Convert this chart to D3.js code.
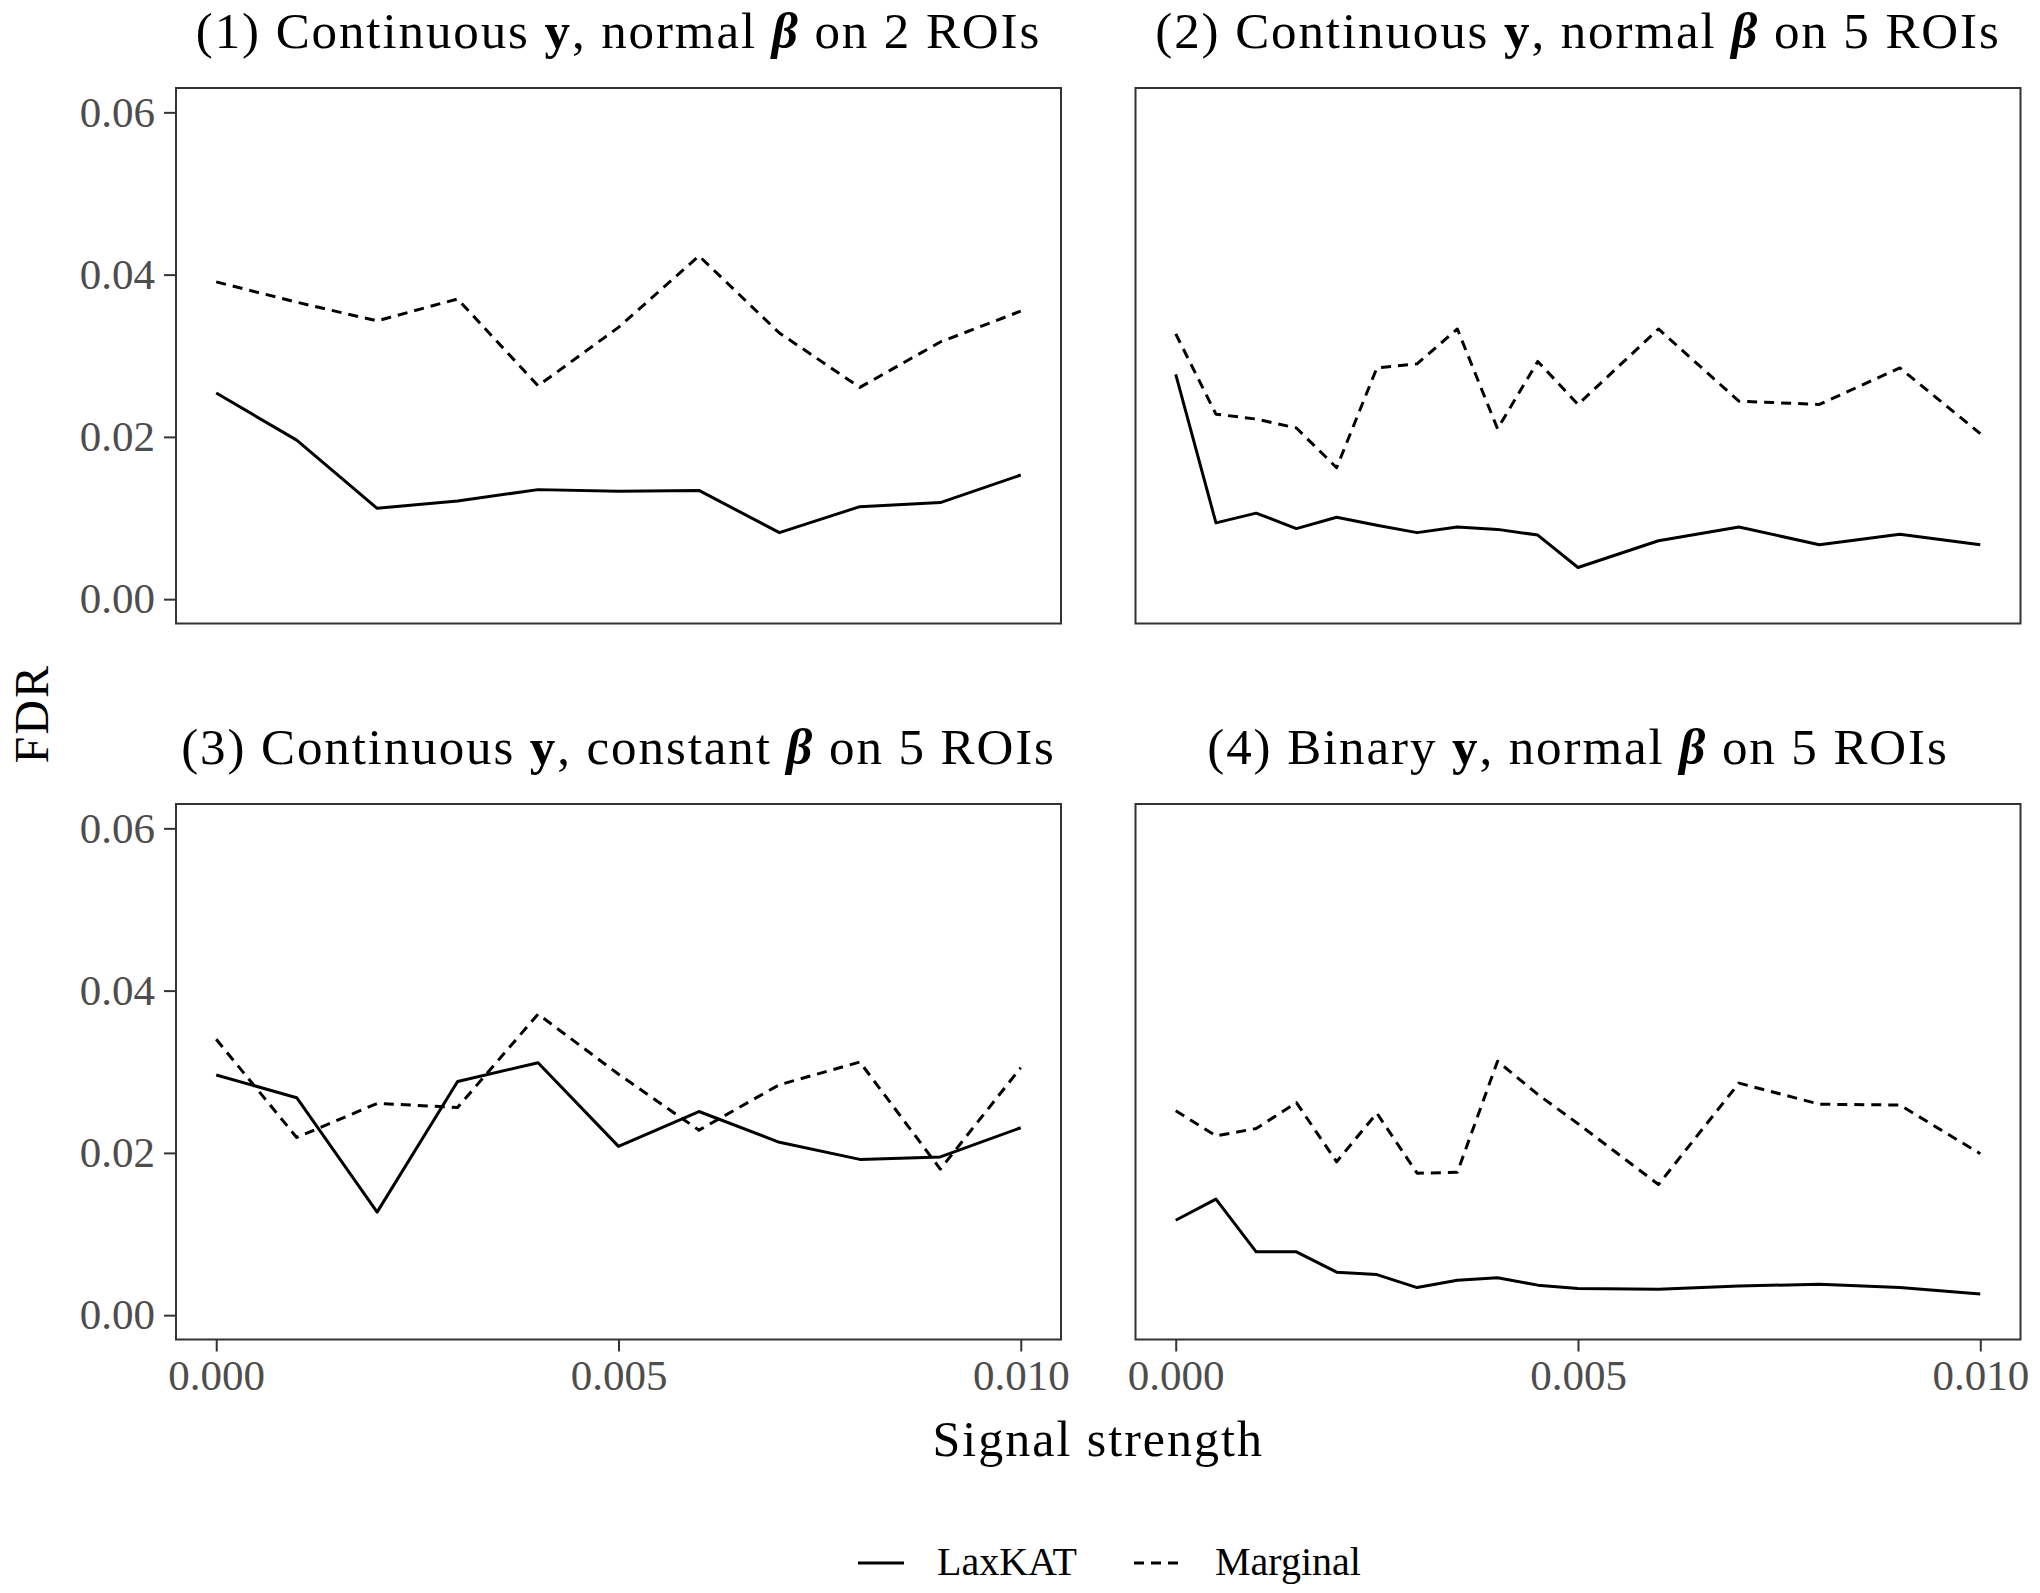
<!DOCTYPE html>
<html>
<head>
<meta charset="utf-8">
<script src="https://cdn.jsdelivr.net/npm/d3@7"></script>
<style>
	html, body { margin: 0; padding: 0; background: #ffffff; }
	svg { display: block; font-family: "Liberation Serif", "Times New Roman", serif; }
	.tick-label { fill: #4d4d4d; font-size: 43px; font-family: "Liberation Serif", "Times New Roman", serif; }
	.panel-title { fill: #000000; font-size: 51px; letter-spacing: 1.9px; }
	.axis-title { fill: #000000; font-size: 50px; letter-spacing: 2px; }
	.legend-text { fill: #000000; font-size: 40px; }
</style>
</head>
<body>
<svg id="chart"></svg>
<script>
const width = 2040;
const height = 1593;

// x values: coarse grid (panels 1, 3) and fine grid (panels 2, 4)
const xCoarse = [0, 0.001, 0.002, 0.003, 0.004, 0.005, 0.006, 0.007, 0.008, 0.009, 0.010];
const xFine = [0, 0.0005, 0.001, 0.0015, 0.002, 0.0025, 0.003, 0.0035, 0.004, 0.0045, 0.005,
	0.006, 0.007, 0.008, 0.009, 0.010];

// FDR
const laxkat1 = [0.0254, 0.0196, 0.0112, 0.0121, 0.0135, 0.0133, 0.0134, 0.0082, 0.0114, 0.0119, 0.0153];
const marginal1 = [0.0391, 0.0366, 0.0343, 0.0370, 0.0263, 0.0335, 0.0423, 0.0328, 0.0261, 0.0317, 0.0355];

const laxkat2 = [0.0277, 0.0094, 0.0106, 0.0087, 0.0101, 0.0091, 0.0082, 0.0089, 0.0086, 0.0079, 0.0039,
	0.0072, 0.0089, 0.0067, 0.0080, 0.0067];
const marginal2 = [0.0327, 0.0228, 0.0222, 0.0211, 0.0162, 0.0285, 0.0290, 0.0333, 0.0210, 0.0293, 0.0240,
	0.0333, 0.0244, 0.0240, 0.0285, 0.0204];

const laxkat3 = [0.0296, 0.0268, 0.0127, 0.0288, 0.0311, 0.0208, 0.0251, 0.0213, 0.0192, 0.0195, 0.0231];
const marginal3 = [0.0340, 0.0219, 0.0261, 0.0256, 0.0371, 0.0297, 0.0228, 0.0284, 0.0312, 0.0180, 0.0305];

const laxkat4 = [0.0117, 0.0143, 0.0078, 0.0078, 0.0053, 0.0050, 0.0034, 0.0043, 0.0046, 0.0037, 0.0033,
	0.0032, 0.0036, 0.0038, 0.0034, 0.0026];
const marginal4 = [0.0252, 0.0221, 0.0230, 0.0262, 0.0189, 0.0249, 0.0175, 0.0176, 0.0313, 0.0272, 0.0236,
	0.0161, 0.0286, 0.0260, 0.0259, 0.0199];

// title pieces: [plain, bold y, plain, bold-italic beta, plain]
const panelTitles = [
	["(1) Continuous ", "y", ", normal ", "β", " on 2 ROIs"],
	["(2) Continuous ", "y", ", normal ", "β", " on 5 ROIs"],
	["(3) Continuous ", "y", ", constant ", "β", " on 5 ROIs"],
	["(4) Binary ", "y", ", normal ", "β", " on 5 ROIs"]
];

const yTicks = [0, 0.02, 0.04, 0.06];
const yTickLabels = ["0.00", "0.02", "0.04", "0.06"];
const xTicks = [0, 0.005, 0.010];
const xTickLabels = ["0.000", "0.005", "0.010"];

const seriesNames = ["LaxKAT", "Marginal"];
const dashPattern = "10 7";

const panels = [
	{ x: xCoarse, lax: laxkat1, mar: marginal1, col: 0, row: 0 },
	{ x: xFine, lax: laxkat2, mar: marginal2, col: 1, row: 0 },
	{ x: xCoarse, lax: laxkat3, mar: marginal3, col: 0, row: 1 },
	{ x: xFine, lax: laxkat4, mar: marginal4, col: 1, row: 1 }
];

const colLeft = [176, 1135.5];
const panelWidth = 885;
const rowTop = [88, 804];
const panelHeight = 535.5;

// ggplot style 5% expansion
const expand = (lo, hi) => [lo - (hi - lo) * 0.05, hi + (hi - lo) * 0.05];

const svg = d3.select("#chart")
	.attr("width", width)
	.attr("height", height)
	.attr("viewBox", `0 0 ${width} ${height}`);

svg.append("rect")
	.attr("width", width)
	.attr("height", height)
	.attr("fill", "#ffffff");

function styleAxis(sel) {
	sel.attr("font-family", null).attr("font-size", null);
	sel.select(".domain").remove();
	sel.selectAll(".tick line").attr("stroke", "#333333").attr("stroke-width", 2);
	sel.selectAll(".tick text").attr("class", "tick-label").attr("fill", null);
}

panels.forEach((p, i) => {
	const left = colLeft[p.col];
	const top = rowTop[p.row];

	const xScale = d3.scaleLinear()
		.domain(expand(0, 0.010))
		.range([left, left + panelWidth]);
	const yScale = d3.scaleLinear()
		.domain(expand(0, 0.06))
		.range([top + panelHeight, top]);

	const g = svg.append("g").attr("class", "panel");

	const line = d3.line()
		.x((d) => xScale(d[0]))
		.y((d) => yScale(d[1]));

	g.append("path")
		.datum(p.x.map((x, j) => [x, p.mar[j]]))
		.attr("d", line)
		.attr("fill", "none")
		.attr("stroke", "#000000")
		.attr("stroke-width", 3)
		.attr("stroke-dasharray", dashPattern)
		.attr("stroke-linejoin", "round");

	g.append("path")
		.datum(p.x.map((x, j) => [x, p.lax[j]]))
		.attr("d", line)
		.attr("fill", "none")
		.attr("stroke", "#000000")
		.attr("stroke-width", 3)
		.attr("stroke-linejoin", "round");

	// panel border
	g.append("rect")
		.attr("x", left)
		.attr("y", top)
		.attr("width", panelWidth)
		.attr("height", panelHeight)
		.attr("fill", "none")
		.attr("stroke", "#333333")
		.attr("stroke-width", 2);

	// y axis only on left column
	if (p.col === 0) {
		const yAxis = d3.axisLeft(yScale)
			.tickValues(yTicks)
			.tickFormat((d, k) => yTickLabels[k])
			.tickSize(12)
			.tickPadding(9);
		g.append("g")
			.attr("transform", `translate(${left}, 0)`)
			.call(yAxis)
			.call(styleAxis);
	}

	// x axis only on bottom row
	if (p.row === 1) {
		const xAxis = d3.axisBottom(xScale)
			.tickValues(xTicks)
			.tickFormat((d, k) => xTickLabels[k])
			.tickSize(12)
			.tickPadding(8);
		g.append("g")
			.attr("transform", `translate(0, ${top + panelHeight})`)
			.call(xAxis)
			.call(styleAxis);
	}

	// title
	const title = svg.append("text")
		.attr("class", "panel-title")
		.attr("x", left + panelWidth / 2)
		.attr("y", top - 40)
		.attr("text-anchor", "middle");
	panelTitles[i].forEach((piece, k) => {
		const t = title.append("tspan").text(piece);
		if (k === 1) t.attr("font-weight", "bold");
		if (k === 3) t.attr("font-weight", "bold").attr("font-style", "italic");
	});
});

// axis titles
svg.append("text")
	.attr("class", "axis-title")
	.attr("x", (colLeft[0] + colLeft[1] + panelWidth) / 2)
	.attr("y", 1456)
	.attr("text-anchor", "middle")
	.text("Signal strength");

svg.append("text")
	.attr("class", "axis-title")
	.attr("transform", `translate(48, ${(rowTop[0] + rowTop[1] + panelHeight) / 2}) rotate(-90)`)
	.attr("text-anchor", "middle")
	.style("font-size", "48px")
	.text("FDR");

// legend
const legend = svg.append("g").attr("transform", "translate(858, 1563)");
const legendItems = legend.selectAll("g")
	.data(seriesNames)
	.enter()
	.append("g")
	.attr("transform", (d, i) => `translate(${i * 276}, 0)`);

legendItems.append("line")
	.attr("x1", 0)
	.attr("x2", 46)
	.attr("y1", 0)
	.attr("y2", 0)
	.attr("stroke", "#000000")
	.attr("stroke-width", 3)
	.attr("stroke-dasharray", (d, i) => i === 1 ? dashPattern : null);

legendItems.append("text")
	.attr("class", "legend-text")
	.attr("x", (d, i) => i === 0 ? 79 : 81)
	.attr("y", 12)
	.text((d) => d);
</script>
</body>
</html>
